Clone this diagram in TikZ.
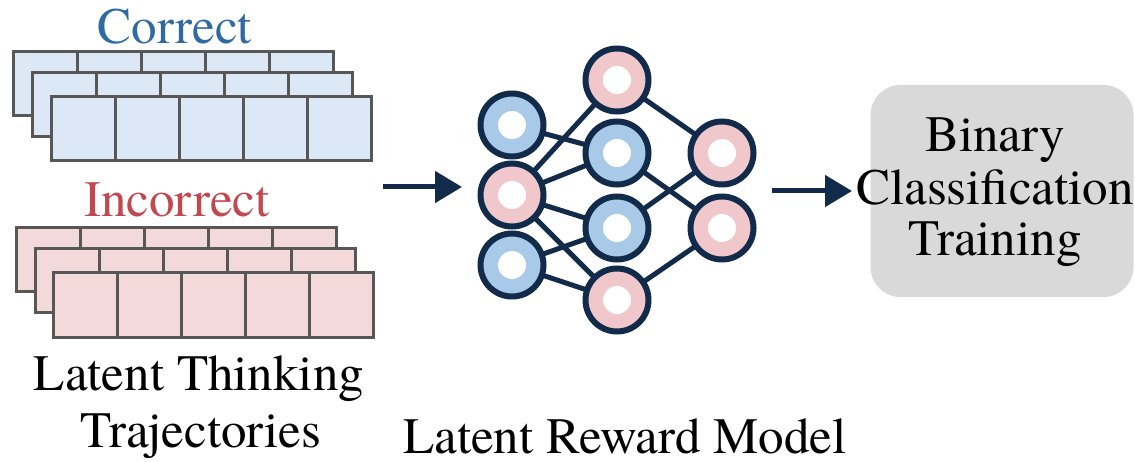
\documentclass[tikz,border=0pt]{standalone}
\usepackage{fontspec}
\setmainfont{texgyretermes}[Extension=.otf, UprightFont=*-regular,
  BoldFont=*-bold, ItalicFont=*-italic, BoldItalicFont=*-bolditalic]
\usetikzlibrary{arrows.meta}

\definecolor{cellline}{HTML}{575757}
\definecolor{cellblue}{HTML}{DCE8F5}
\definecolor{cellpink}{HTML}{F4D9DB}
\definecolor{okblue}{HTML}{2F6AA3}
\definecolor{badred}{HTML}{C2474E}
\definecolor{navy}{HTML}{122B4B}
\definecolor{nnblue}{HTML}{A9C9E9}
\definecolor{nnpink}{HTML}{F0C8CC}
\definecolor{boxgray}{HTML}{D9D9D9}

\begin{document}
\begin{tikzpicture}[x=1pt,y=-1pt,
  cell/.style={draw=cellline, line width=3pt, minimum width=64pt,
    minimum height=64pt, inner sep=0pt, outer sep=0pt, anchor=north west},
  neuron/.style={circle, draw=navy, line width=6pt, minimum size=63pt,
    inner sep=0pt, outer sep=0pt},
  edge/.style={draw=navy, line width=5pt},
  flow/.style={draw=navy, line width=5pt,
    -{Triangle[length=27pt,width=31pt]}},
  label/.style={font=\fontsize{51}{53}\selectfont, inner sep=0pt, anchor=base}]

\useasboundingbox (0,0) rectangle (1135,462);

% ---- trajectory stacks: three layers of five cells each ----
\foreach \lay/\x/\y in {back/13/52, mid/32/73, front/51/97}{
  \foreach \i in {0,...,4}
    \node[cell, fill=cellblue] (ok-\lay-\i) at (\x+64*\i, \y) {};
}
\foreach \lay/\x/\y in {back/16/228, mid/35/249, front/53/273}{
  \foreach \i in {0,...,4}
    \node[cell, fill=cellpink] (bad-\lay-\i) at (\x+64*\i, \y) {};
}

\node[label, text=okblue] (okname) at (175,44) {Correct};
\node[label, text=badred] (badname) at (177,217) {Incorrect};

\node[label] (traj1) at (199,390) {Latent Thinking};
\node[label] (traj2) at (201,447) {Trajectories};

% ---- reward model network ----
\node[neuron, fill=nnblue] (a1) at (512,125) {};
\node[neuron, fill=nnpink] (a2) at (512,195) {};
\node[neuron, fill=nnblue] (a3) at (512,265) {};

\node[neuron, fill=nnpink] (b1) at (617,80) {};
\node[neuron, fill=nnblue] (b2) at (617,153) {};
\node[neuron, fill=nnblue] (b3) at (617,228) {};
\node[neuron, fill=nnpink] (b4) at (617,300) {};

\node[neuron, fill=nnpink] (c1) at (722,153) {};
\node[neuron, fill=nnpink] (c2) at (722,228) {};

\foreach \n in {a1,a2,a3,b1,b2,b3,b4,c1,c2}
  \fill[white] (\n.center) circle (14pt);

\foreach \s/\t in {a1/b2, a2/b1, a2/b2, a2/b3, a2/b4, a3/b3, a3/b4,
                   b1/c1, b2/c2, b3/c1, b4/c2}
  \draw[edge] (\s) -- (\t);

\node[label] (rm) at (625,453) {Latent Reward Model};

% ---- classification stage ----
\node[rectangle, rounded corners=30pt, fill=boxgray, minimum width=263pt,
  minimum height=212pt, inner sep=0pt] (train) at (1002,191) {};
\node[label] (tr1) at (995,152) {Binary};
\node[label] (tr2) at (995,205) {Classification};
\node[label] (tr3) at (995,256) {Training};

% ---- flow arrows ----
\coordinate (f1s) at (383,187);
\coordinate (f1e) at (462,187);
\coordinate (f2s) at (772,191);
\coordinate (f2e) at (852,191);
\draw[flow] (f1s) -- (f1e);
\draw[flow] (f2s) -- (f2e);

\end{tikzpicture}
\end{document}
